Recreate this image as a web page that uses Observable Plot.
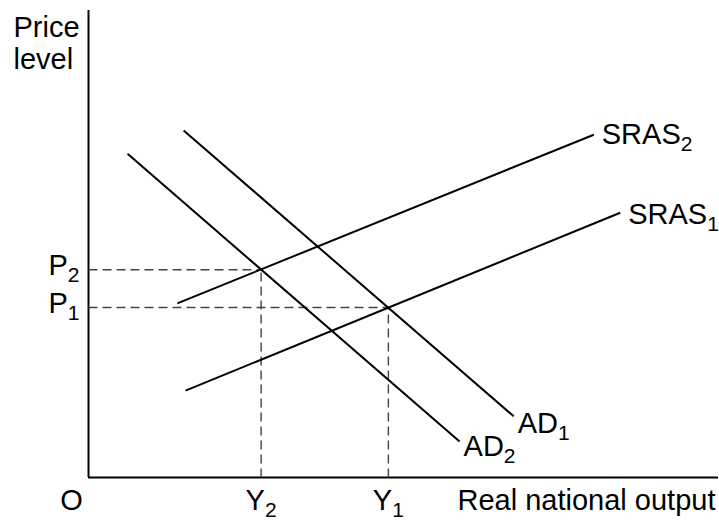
<!DOCTYPE html>
<html>
<head>
<meta charset="utf-8">
<script src="https://cdn.jsdelivr.net/npm/d3@7"></script>
<script src="https://cdn.jsdelivr.net/npm/@observablehq/plot@0.6"></script>
<style>
  html, body { margin: 0; padding: 0; background: #fff; }
  #chart svg { display: block; }
</style>
</head>
<body>
<div id="chart"></div>
<script>
// Curves (abstract units: output 0–100, price level 0–100)
const curveLabels = ["SRAS_2", "SRAS_1", "AD_1", "AD_2"];
const startX = [14.1, 15.4, 15.1, 6.2];
const startY = [37.3, 18.6, 74.3, 69.3];
const endX = [80.2, 84.4, 67.5, 58.9];
const endY = [73.4, 56.7, 13.1, 7.7];

// Equilibria
const priceLabels = ["P_1", "P_2"];
const priceValues = [36.4, 44.5];
const outputLabels = ["Y_1", "Y_2"];
const outputValues = [47.6, 27.4];

const axisTitleY = "Price\nlevel";
const axisTitleX = "Real national output";
const originLabel = "O";

const curves = curveLabels.map((label, i) => ({label, x1: startX[i], y1: startY[i], x2: endX[i], y2: endY[i]}));
const eq = priceValues.map((p, i) => ({p, y: outputValues[i], pl: priceLabels[i], yl: outputLabels[i]}));

const FS = 29;
const SUB = 21;
const font = "'Liberation Sans', Arial, Helvetica, sans-serif";

// label offsets per curve (presentation only)
const curveLabelOffsets = {"SRAS_2": [8, 0], "SRAS_1": [8, 2], "AD_1": [4, 7], "AD_2": [4, 5]};

const marks = [
  // axes
  Plot.ruleX([0], {y1: 0, y2: 100, stroke: "#000", strokeWidth: 2}),
  Plot.ruleY([0], {x1: 0, x2: 100, stroke: "#000", strokeWidth: 2}),
  // dashed guides
  Plot.link(eq, {x1: 0, y1: "p", x2: "y", y2: "p", stroke: "#444", strokeWidth: 1.4, strokeDasharray: "9,5"}),
  Plot.link(eq, {x1: "y", y1: 0, x2: "y", y2: "p", stroke: "#444", strokeWidth: 1.4, strokeDasharray: "9,5"}),
  // curves
  Plot.link(curves, {x1: "x1", y1: "y1", x2: "x2", y2: "y2", stroke: "#000", strokeWidth: 2}),
  // tick labels
  Plot.text(eq, {x: 0, y: "p", text: "pl", textAnchor: "end", dx: -9, dy: -4, fontSize: FS}),
  Plot.text(eq, {x: "y", y: 0, text: "yl", textAnchor: "middle", dy: 23, fontSize: FS}),
  Plot.text([originLabel], {x: 0, y: 0, text: d => d, textAnchor: "middle", dx: -17, dy: 23, fontSize: FS}),
  Plot.text([axisTitleX], {x: 100, y: 0, text: d => d, textAnchor: "end", dx: -3, dy: 23, fontSize: FS}),
  Plot.text([axisTitleY], {x: 0, y: 100, text: d => d, textAnchor: "start", dx: -75, dy: 4, lineAnchor: "top", lineHeight: 1.1, fontSize: FS}),
  // curve labels
  ...curves.map(c => Plot.text([c], {x: "x2", y: "y2", text: "label", textAnchor: "start",
      dx: curveLabelOffsets[c.label][0], dy: curveLabelOffsets[c.label][1], fontSize: FS}))
];

const svg = Plot.plot({
  width: 719,
  height: 521,
  marginLeft: 88,
  marginRight: 1,
  marginTop: 10,
  marginBottom: 44,
  x: {domain: [0, 100], axis: null},
  y: {domain: [0, 100], axis: null},
  style: {fontFamily: font, fontSize: FS + "px", color: "#000", background: "#fff", overflow: "visible"},
  marks
});

// subscripts: "BASE_SUB" -> BASE + lowered smaller SUB
d3.select(svg).selectAll("text").each(function() {
  const t = this.textContent;
  if (t && t.includes("_") && this.childElementCount === 0) {
    const [base, sub] = t.split("_");
    this.textContent = base;
    d3.select(this).append("tspan").attr("dy", "0.35em").attr("font-size", SUB + "px").text(sub);
  }
});

document.getElementById("chart").appendChild(svg);
</script>
</body>
</html>
